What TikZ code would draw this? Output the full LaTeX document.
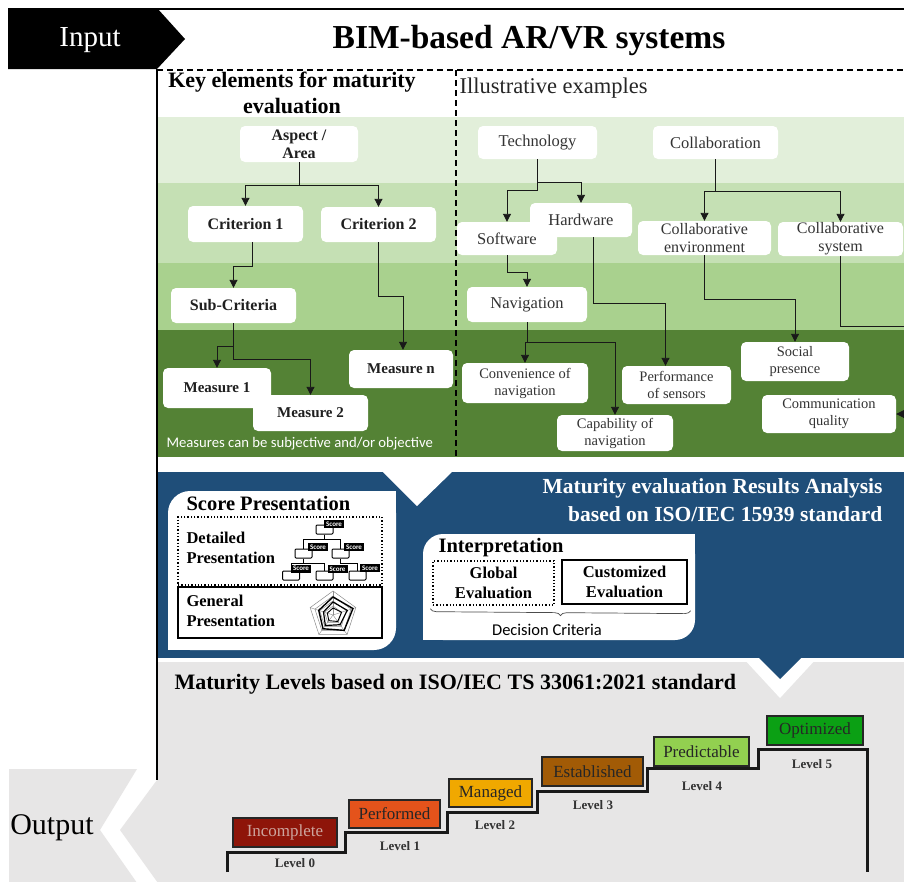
\documentclass[tikz,border=0pt]{standalone}
\usepackage{fontspec}
\setmainfont{Liberation Serif}
\newfontfamily\carl{Carlito}
\usetikzlibrary{arrows.meta,decorations.pathreplacing}
\definecolor{bandA}{HTML}{E2EFDA}
\definecolor{bandB}{HTML}{C5E0B4}
\definecolor{bandC}{HTML}{A9D18E}
\definecolor{bandD}{HTML}{548235}
\definecolor{blueM}{HTML}{1F4E79}
\definecolor{greyM}{HTML}{E7E6E6}
\definecolor{txt}{HTML}{333333}
\definecolor{lvA}{HTML}{8E1509}
\definecolor{lvB}{HTML}{E4531B}
\definecolor{lvC}{HTML}{F0A800}
\definecolor{lvD}{HTML}{A25B06}
\definecolor{lvE}{HTML}{92D050}
\definecolor{lvF}{HTML}{0BA014}
\begin{document}
\begin{tikzpicture}[x=1pt,y=-1pt,
  wbox/.style={fill=white, rounded corners=5pt, inner sep=0pt, align=center},
  sz/.style 2 args={minimum width=#1pt, minimum height=#2pt},
  kb/.style={wbox, text=black!88, font=\bfseries\fontsize{16}{18}\selectfont},
  kbs/.style={wbox, text=black!88, font=\bfseries\fontsize{15}{17}\selectfont},
  ex/.style={wbox, text=txt, font=\fontsize{16.5}{19}\selectfont},
  exs/.style={wbox, text=txt, font=\fontsize{14.5}{17}\selectfont},
  arr/.style={draw=black!90, line width=0.9pt, -{Triangle[width=8pt,length=8pt]}},
  head/.style={font=\bfseries\fontsize{22}{26}\selectfont},
  lvl/.style={draw=black!85, line width=1.5pt, inner sep=0pt, text=black!85, font=\fontsize{17}{19}\selectfont},
  lvlab/.style={text=black!80, font=\bfseries\fontsize{13}{15}\selectfont},
  scorelab/.style={fill=black, text=white, inner sep=0pt, minimum width=20pt, minimum height=8pt, font=\carl\bfseries\fontsize{7}{7}\selectfont},
  scorebox/.style={draw=black, line width=1pt, rounded corners=1pt, minimum width=17pt, minimum height=9pt, inner sep=0pt}
]
\clip (0,0) rectangle (904,881);
\fill[white] (0,0) rectangle (904,881);

% ---------- Input arrow and title ----------
\fill[black] (8,8) -- (157,8) -- (185,39) -- (157,69) -- (8,69) -- cycle;
\node[text=white, font=\fontsize{29}{32}\selectfont] (input) at (90,40) {Input};
\draw[line width=1.5pt] (157,9) -- (904,9);
\node[font=\bfseries\fontsize{33.5}{38}\selectfont] (title) at (529,40) {BIM-based AR/VR systems};

% ---------- green bands ----------
\fill[bandA] (158,117) rectangle (904,183);
\fill[bandB] (158,183) rectangle (904,263);
\fill[bandC] (158,263) rectangle (904,330);
\fill[bandD] (158,330) rectangle (904,457);

% frame lines
\draw[line width=1.2pt] (157,69) -- (157,780);
\draw[line width=1.2pt, dash pattern=on 6pt off 4pt] (157,70) -- (904,70);
\draw[line width=1.2pt, dash pattern=on 6pt off 4pt] (456,70) -- (456,457);

\node[head, align=center] (keyel) at (292,93) {Key elements for maturity\\evaluation};
\node[anchor=west, font=\fontsize{22.5}{26}\selectfont, text=black!85] (illus) at (456,88) {Illustrative examples};

% ---------- key elements ----------
\node[kb, sz={118}{36}] (aspect) at (299,144) {Aspect /\\Area};
\node[kb, sz={115}{36}] (crit1) at (245.5,224) {Criterion 1};
\node[kb, sz={115}{35}] (crit2) at (378.5,224.5) {Criterion 2};
\node[kb, sz={125}{35}] (subcrit) at (233.5,305.5) {Sub-Criteria};
\node[kbs, sz={104}{38}] (measn) at (401,369) {Measure n};
\node[kbs, sz={108}{40}] (meas1) at (217,388) {Measure 1};
\node[kbs, sz={115}{36}] (meas2) at (310.5,413) {Measure 2};

\draw[arr] (aspect.south) -- ++(0,23) -| (crit1.north);
\draw[arr] (aspect.south) -- ++(0,23) -| (crit2.north);
\draw[arr] ([xshift=7pt]crit1.south) -- ++(0,24) -| (subcrit.north);
\draw[arr] (crit2.south) -- ++(0,54) -| ([xshift=2pt]measn.north);
\draw[arr] (subcrit.south) -- ++(0,23) -| (meas1.north);
\draw[arr] (subcrit.south) -- ++(0,36) -| (meas2.north);

\node[anchor=west, text=white, font=\carl\fontsize{14.7}{17}\selectfont] (measnote) at (163,444) {Measures can be subjective and/or objective};

% ---------- illustrative examples ----------
\node[ex, sz={119}{33}] (tech) at (537.5,142.5) {Technology};
\node[ex, sz={125}{33}] (collab) at (715.5,142.5) {Collaboration};
\node[ex, sz={100}{33}] (soft) at (507,238.5) {Software};
\node[ex, sz={102}{34}] (hard) at (581,220) {Hardware};
\node[ex, sz={133}{34}, font=\fontsize{16}{18}\selectfont] (collenv) at (704.5,238) {Collaborative\\environment};
\node[ex, sz={125}{34}, font=\fontsize{16}{18}\selectfont] (collsys) at (840.5,239) {Collaborative\\system};
\node[ex, sz={120}{35}] (nav) at (527,304.5) {Navigation};
\node[exs, sz={126}{40}] (conv) at (525,383) {Convenience of\\navigation};
\node[exs, sz={116}{36}] (capab) at (615,433) {Capability of\\navigation};
\node[exs, sz={109}{38}] (perf) at (676.5,385) {Performance\\of sensors};
\node[exs, sz={108}{39}] (social) at (795,361.5) {Social\\presence};
\node[exs, sz={134}{38}] (comm) at (829,414) {Communication\\quality};

\draw[arr] (tech.south) -- ++(0,31) -| (soft.north);
\draw[arr] (tech.south) -- ++(0,23) -| (hard.north);
\draw[arr] (collab.south) -- ++(0,32) -| (collenv.north);
\draw[arr] (collab.south) -- ++(0,32) -| (collsys.north);
\draw[arr] (soft.south) -- ++(0,17) -| (nav.north);
\draw[arr] (nav.south) -- ++(0,20) -| (conv.north);
\draw[arr] (nav.south) -- ++(0,20) -| (capab.north);
\draw[arr] ([xshift=12pt]hard.south) -- ++(0,66) -| ([xshift=-11pt]perf.north);
\draw[arr] (collenv.south) -- ++(0,44) -| (social.north);
\draw[arr] (collsys.south) -- ++(0,70) -- ++(75,0) |- (comm.east);

% ---------- blue analysis band ----------
\fill[blueM] (158,472) rectangle (904,658);
\fill[white] (382,471) -- (453,471) -- (417,506) -- cycle;
\node[anchor=east, text=white, font=\bfseries\fontsize{21.5}{24}\selectfont] (anA) at (886,488) {Maturity evaluation Results Analysis};
\node[anchor=east, text=white, font=\bfseries\fontsize{21.5}{24}\selectfont] (anB) at (886,514) {based on ISO/IEC 15939 standard};

% score presentation panel
\fill[white, rounded corners=22pt] (168,491) rectangle (396,650);
\fill[white] (370,491) rectangle (396,515);
\fill[white] (168,625) rectangle (194,650);
\node[anchor=west, font=\bfseries\fontsize{20.5}{22}\selectfont] (scorep) at (183,503) {Score Presentation};
\node[draw, dotted, line width=1.3pt, sz={204}{68}] (det) at (280,551) {};
\node[anchor=west, align=left, font=\bfseries\fontsize{16.5}{20}\selectfont] (dett) at (183,548) {Detailed\\Presentation};
\node[draw, line width=1.3pt, sz={204}{51}] (gen) at (280,612.5) {};
\node[anchor=west, align=left, font=\bfseries\fontsize{16.5}{20}\selectfont] (gent) at (183,611) {General\\Presentation};

% score tree icon
\node[scorebox] (sb0) at (324.5,529.5) {};
\node[scorebox] (sb1) at (303.5,553.5) {};
\node[scorebox] (sb2) at (340.5,553.5) {};
\node[scorebox] (sb3) at (291,575.5) {};
\node[scorebox] (sb4) at (324.5,575.5) {};
\node[scorebox] (sb5) at (357.5,575.5) {};
\draw[line width=0.8pt] (sb0.south) -- ++(0,5) -| (sb1.north);
\draw[line width=0.8pt] (sb0.south) -- ++(0,5) -| (sb2.north);
\draw[line width=0.8pt] (sb1.south) -- ++(0,5) -| (sb3.north);
\draw[line width=0.8pt] (sb1.south) -- ++(0,5) -| (sb4.north);
\draw[line width=0.8pt] (sb2.south) -- ++(0,5) -| (sb5.north);
\node[scorelab] (sl0) at (334,524) {Score};
\node[scorelab] (sl1) at (318,547) {Score};
\node[scorelab] (sl2) at (354,547) {Score};
\node[scorelab] (sl3) at (301,568.5) {Score};
\node[scorelab] (sl4) at (337.5,569) {Score};
\node[scorelab] (sl5) at (370,568) {Score};

% radar icon
\begin{scope}[shift={(333,615)}]
  \foreach \r in {24,19,14,9}
    \draw[black!45, line width=0.5pt] (-90:\r) -- (-18:\r) -- (54:\r) -- (126:\r) -- (198:\r) -- cycle;
  \foreach \a in {-90,-18,54,126,198}
    \draw[black!45, line width=0.4pt] (0,0) -- (\a:24);
  \draw[black, line width=1.4pt] (-90:18) -- (-18:21) -- (54:19) -- (126:17) -- (198:15) -- cycle;
  \draw[black, line width=1.2pt] (-90:13) -- (-18:15) -- (54:12) -- (126:13) -- (198:10) -- cycle;
  \draw[black, line width=0.9pt] (-90:7) -- (-18:9) -- (54:8) -- (126:7) -- (198:6) -- cycle;
\end{scope}

% interpretation panel
\fill[white, rounded corners=20pt] (423,534) rectangle (695,640);
\fill[white] (670,534) rectangle (695,558);
\fill[white] (423,616) rectangle (447,640);
\node[anchor=west, font=\bfseries\fontsize{20.5}{22}\selectfont] (interp) at (435,548) {Interpretation};
\node[draw, dotted, line width=1.3pt, sz={121}{44}, align=center, font=\bfseries\fontsize{16.5}{20}\selectfont] (glob) at (493.5,583) {Global\\Evaluation};
\node[draw, line width=1.3pt, sz={125}{44}, align=center, font=\bfseries\fontsize{16.5}{20}\selectfont] (cust) at (624.5,582) {Customized\\Evaluation};
\draw[black!70, line width=0.7pt, decorate, decoration={brace, mirror, amplitude=6pt}] (glob.south west) ++(-2,3) coordinate (brA) -- ([xshift=3pt,yshift=-2pt]cust.south east |- brA);
\node[font=\carl\fontsize{16.5}{18}\selectfont] (decis) at (547,630) {Decision Criteria};

% ---------- maturity levels ----------
\fill[greyM] (158,662) -- (904,662) -- (904,890) -- (163,890) -- (120,830) -- (157,780) -- (158,780) -- cycle;
\fill[white] (743,658) -- (817,658) -- (780,698) -- cycle;
\fill[blueM] (758,657) -- (802,657) -- (780,679) -- cycle;
\fill[greyM] (9,769) -- (137,769) -- (100,830) -- (142,890) -- (9,890) -- cycle;
\node[font=\fontsize{30}{33}\selectfont] (output) at (52,828) {Output};

\node[anchor=west, font=\bfseries\fontsize{22}{24}\selectfont] (mlev) at (171,684) {Maturity Levels based on ISO/IEC TS 33061:2021 standard};

\draw[line width=3pt, black!90] (227,872) -- (227,852) -- (345,852) -- (345,832) -- (447,832) -- (447,812) -- (537,812) -- (537,791) -- (647,791) -- (647,768) -- (758,768) -- (758,749) -- (867,749) -- (867,872);

\node[lvl, fill=lvA, text={rgb,255:red,205;green,165;blue,158}, sz={104}{29}] (l0) at (285,832.5) {Incomplete};
\node[lvl, fill=lvB, sz={91}{28}] (l1) at (394.5,814) {Performed};
\node[lvl, fill=lvC, sz={83}{28}] (l2) at (490.5,793) {Managed};
\node[lvl, fill=lvD, sz={101}{29}] (l3) at (592.5,771.5) {Established};
\node[lvl, fill=lvE, sz={95}{29}] (l4) at (701.5,751.5) {Predictable};
\node[lvl, fill=lvF, sz={96}{29}] (l5) at (815,730.5) {Optimized};

\node[lvlab] (t0) at (295,863) {Level 0};
\node[lvlab] (t1) at (400,846) {Level 1};
\node[lvlab] (t2) at (495,825) {Level 2};
\node[lvlab] (t3) at (593,805) {Level 3};
\node[lvlab] (t4) at (702,786) {Level 4};
\node[lvlab] (t5) at (812,764) {Level 5};
\end{tikzpicture}
\end{document}
